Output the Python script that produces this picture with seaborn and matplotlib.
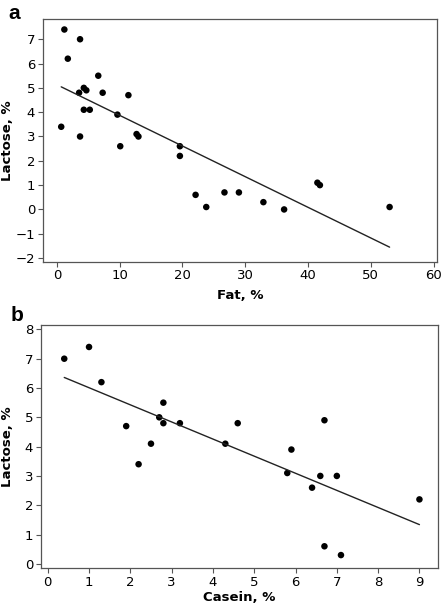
import numpy as np
import pandas as pd
import matplotlib
matplotlib.use("Agg")
import matplotlib.pyplot as plt
import seaborn as sns

# -----------------------------
# Data
# -----------------------------
fat = [1.2, 3.7, 1.75, 6.6, 4.3, 4.7, 3.55, 7.3, 11.4, 4.3, 5.25, 9.65, 0.7, 3.7,
       12.7, 13.0, 10.1, 19.6, 19.6, 22.1, 23.8, 26.7, 29.0, 32.9, 36.2, 41.5, 41.9, 53.0]
lactose_a = [7.4, 7.0, 6.2, 5.5, 5.0, 4.9, 4.8, 4.8, 4.7, 4.1, 4.1, 3.9, 3.4, 3.0,
             3.1, 3.0, 2.6, 2.6, 2.2, 0.6, 0.1, 0.7, 0.7, 0.3, 0.0, 1.1, 1.0, 0.1]

casein = [0.4, 1.0, 1.3, 2.8, 2.7, 2.8, 3.2, 1.9, 2.5, 2.2, 4.3, 4.6, 6.7, 5.9,
          5.8, 6.6, 7.0, 6.4, 9.0, 6.7, 7.1]
lactose_b = [7.0, 7.4, 6.2, 5.5, 5.0, 4.8, 4.8, 4.7, 4.1, 3.4, 4.1, 4.8, 4.9, 3.9,
             3.1, 3.0, 3.0, 2.6, 2.2, 0.6, 0.3]

df_a = pd.DataFrame({"Fat": fat, "Lactose": lactose_a})
df_b = pd.DataFrame({"Casein": casein, "Lactose": lactose_b})

sns.set_style("ticks")
plt.rcParams["font.family"] = ["DejaVu Sans"]
plt.rcParams["text.color"] = "black"
plt.rcParams["axes.labelcolor"] = "black"

fig = plt.figure(figsize=(4.42, 6.05), dpi=100)
ax_a = fig.add_axes([0.0966, 0.5674, 0.8928, 0.4007])
ax_b = fig.add_axes([0.0921, 0.0612, 0.8989, 0.4021])

scat = dict(s=22, color="black", edgecolor="none", alpha=1)
line = dict(color="#222222", linewidth=1.0)

sns.regplot(data=df_a, x="Fat", y="Lactose", ax=ax_a, ci=None,
            scatter_kws=scat, line_kws=line)
sns.regplot(data=df_b, x="Casein", y="Lactose", ax=ax_b, ci=None,
            scatter_kws=scat, line_kws=line)

# Panel a
ax_a.set_xlim(-2.25, 60.6)
ax_a.set_ylim(-2.15, 7.82)
ax_a.set_xticks(range(0, 61, 10))
ax_a.set_yticks(range(-2, 8))
ax_a.set_xlabel("Fat, %", fontsize=9.5, fontweight="bold")
ax_a.xaxis.set_label_coords(0.5, -0.113)

# Panel b
ax_b.set_xlim(-0.17, 9.45)
ax_b.set_ylim(-0.14, 8.16)
ax_b.set_xticks(range(0, 10))
ax_b.set_yticks(range(0, 9))
ax_b.set_xlabel("Casein, %", fontsize=9.5, fontweight="bold")
ax_b.xaxis.set_label_coords(0.5, -0.095)

for ax in (ax_a, ax_b):
    ax.set_ylabel("Lactose, %", fontsize=9.5, fontweight="bold")
    for sp in ax.spines.values():
        sp.set_visible(True)
        sp.set_color("#555555")
        sp.set_linewidth(0.9)
    ax.tick_params(axis="both", labelsize=9.5, length=3.5, width=0.8,
                   color="#555555", labelcolor="black", pad=2)

ax_a.yaxis.set_label_coords(-0.072, 0.5)
ax_b.yaxis.set_label_coords(-0.067, 0.5)

fig.text(0.033, 0.977, "a", fontsize=15, fontweight="bold",
         family="Liberation Sans", va="center", ha="center")
fig.text(0.038, 0.479, "b", fontsize=15, fontweight="bold",
         family="Liberation Sans", va="center", ha="center")

fig.savefig("out.png", dpi=100)
